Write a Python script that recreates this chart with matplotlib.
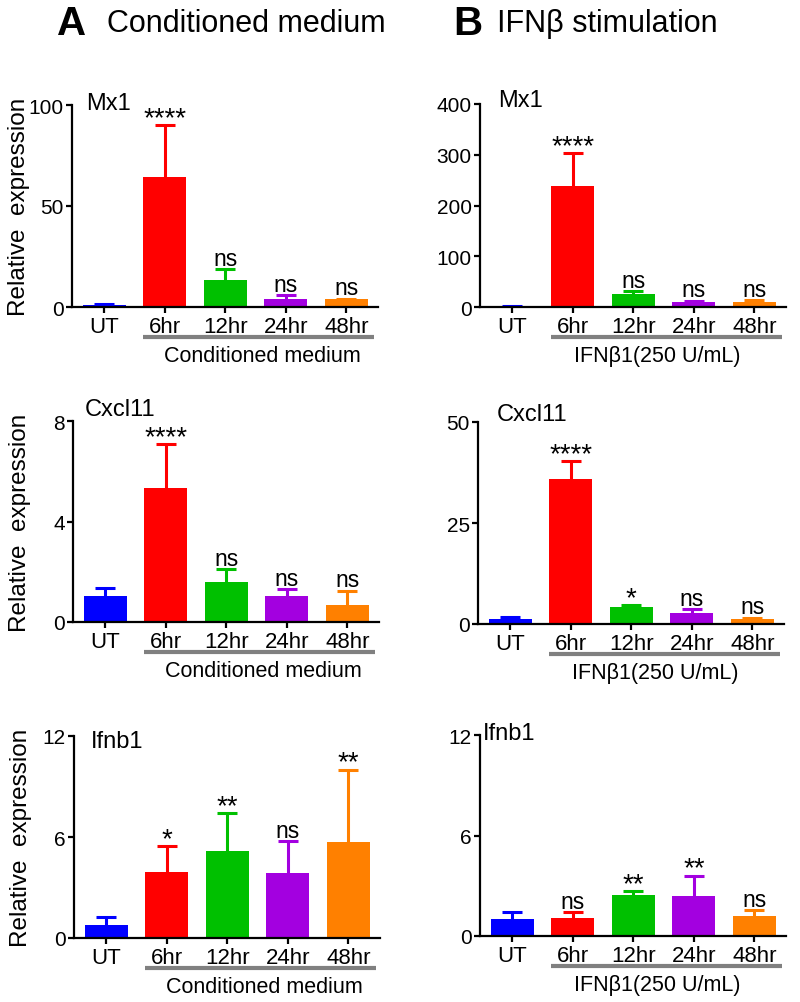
import matplotlib
matplotlib.use("Agg")
import matplotlib.pyplot as plt

plt.rcParams['font.family'] = ['Liberation Sans', 'DejaVu Sans']

categories = ["UT", "6hr", "12hr", "24hr", "48hr"]
bar_colors = ["#0000ff", "#ff0000", "#00c000", "#a300e0", "#ff8000"]

# mean and (upper) error for each gene / treatment
mx1_cm = [1.2, 64.2, 13.2, 3.9, 3.8]
mx1_cm_err = [0.3, 25.8, 5.6, 2.2, 0.4]
mx1_ifn = [2.0, 238, 25.6, 9.0, 10.5]
mx1_ifn_err = [0.5, 65, 6.0, 3.5, 2.5]

cxcl11_cm = [1.03, 5.32, 1.6, 1.03, 0.67]
cxcl11_cm_err = [0.32, 1.75, 0.49, 0.28, 0.58]
cxcl11_ifn = [1.24, 35.9, 4.1, 2.65, 1.24]
cxcl11_ifn_err = [0.56, 4.4, 0.6, 1.05, 0.36]

ifnb1_cm = [0.77, 3.95, 5.16, 3.85, 5.71]
ifnb1_cm_err = [0.5, 1.51, 2.24, 1.92, 4.29]
ifnb1_ifn = [1.01, 1.07, 2.45, 2.41, 1.18]
ifnb1_ifn_err = [0.4, 0.34, 0.25, 1.19, 0.37]

mx1_cm_sig = ["", "****", "ns", "ns", "ns"]
mx1_ifn_sig = ["", "****", "ns", "ns", "ns"]
cxcl11_cm_sig = ["", "****", "ns", "ns", "ns"]
cxcl11_ifn_sig = ["", "****", "*", "ns", "ns"]
ifnb1_cm_sig = ["", "*", "**", "ns", "**"]
ifnb1_ifn_sig = ["", "ns", "**", "**", "ns"]

mx1_cm_ticks = [0, 50, 100]
mx1_ifn_ticks = [0, 100, 200, 300, 400]
cxcl11_cm_ticks = [0, 4, 8]
cxcl11_ifn_ticks = [0, 25, 50]
ifnb1_ticks = [0, 6, 12]

cm_label = "Conditioned medium"
ifn_label = "IFNβ1(250 U/mL)"

W, H = 800, 1003
fig = plt.figure(figsize=(W / 100, H / 100), dpi=100)

# (gene, means, errs, sig, ticks, left px, top px, bottom px, name x, name y, group label, group label x, ylabel?)
panels = [
    ("Mx1", mx1_cm, mx1_cm_err, mx1_cm_sig, mx1_cm_ticks, 72, 106, 308, 0.046, 0.98, cm_label, 2.62, True),
    ("Mx1", mx1_ifn, mx1_ifn_err, mx1_ifn_sig, mx1_ifn_ticks, 480, 105, 308, 0.06, 0.99, ifn_label, 2.4, False),
    ("Cxcl11", cxcl11_cm, cxcl11_cm_err, cxcl11_cm_sig, cxcl11_cm_ticks, 73, 422, 623, 0.04, 1.03, cm_label, 2.62, True),
    ("Cxcl11", cxcl11_ifn, cxcl11_ifn_err, cxcl11_ifn_sig, cxcl11_ifn_ticks, 478, 423, 625, 0.06, 1.01, ifn_label, 2.4, False),
    ("Ifnb1", ifnb1_cm, ifnb1_cm_err, ifnb1_cm_sig, ifnb1_ticks, 74, 737, 939, 0.055, 0.947, cm_label, 2.62, True),
    ("Ifnb1", ifnb1_ifn, ifnb1_ifn_err, ifnb1_ifn_sig, ifnb1_ticks, 480, 736, 937, 0.01, 0.98, ifn_label, 2.4, False),
]

axw = 306
x = list(range(len(categories)))
for gene, vals, errs, sig, ticks, left, top, bottom, nx, ny, glabel, gx, show_ylabel in panels:
    ax = fig.add_axes([left / W, 1 - bottom / H, axw / W, (bottom - top) / H])
    tops = [v + e for v, e in zip(vals, errs)]
    # one-sided error bars (upper only)
    ax.vlines(x, vals, tops, colors=bar_colors, lw=2.2, zorder=1)
    ax.hlines(tops, [i - 0.165 for i in x], [i + 0.165 for i in x],
              colors=bar_colors, lw=2.2, zorder=1)
    ax.bar(x, vals, width=0.71, color=bar_colors, zorder=2, linewidth=0)
    ax.set_xlim(-0.53, 4.52)
    ax.set_ylim(0, ticks[-1])
    ax.set_yticks(ticks)
    ax.set_xticks(x)
    ax.set_xticklabels(categories)
    for s in ["top", "right"]:
        ax.spines[s].set_visible(False)
    for s in ["left", "bottom"]:
        ax.spines[s].set_linewidth(1.6)
    ax.tick_params(axis="y", labelsize=15, width=1.6, length=4, pad=2)
    ax.tick_params(axis="x", labelsize=16, width=1.6, length=4.5, pad=2)

    for i in x:
        if not sig[i]:
            continue
        if sig[i] == "ns":
            ax.annotate(sig[i], (i, tops[i]), xytext=(0, 3),
                        textcoords="offset points", ha="center", va="baseline",
                        fontsize=16.5, clip_on=False)
        else:
            ax.annotate(sig[i], (i, tops[i]), xytext=(0, 0),
                        textcoords="offset points", ha="center", va="baseline",
                        fontsize=20, clip_on=False)

    ax.text(nx, ny, gene, transform=ax.transAxes, fontsize=17, va="baseline", ha="left")

    # grey bracket under the treated groups
    ax.plot([0.645, 4.46], [-0.149, -0.149], color="#808080", lw=3,
            transform=ax.get_xaxis_transform(), clip_on=False, solid_capstyle="butt")
    ax.text(gx, -54 / (bottom - top), glabel, transform=ax.get_xaxis_transform(),
            ha="center", va="baseline", fontsize=15.5)

    if show_ylabel:
        ax.set_ylabel("Relative  expression", fontsize=17.5)
        ax.yaxis.set_label_coords(-0.138, 0.5)

fig.text(57 / W, 1 - 35 / H, "A", fontsize=29, fontweight="bold", va="baseline")
fig.text(107 / W, 1 - 32 / H, "Conditioned medium", fontsize=22, va="baseline")
fig.text(453 / W, 1 - 35 / H, "B", fontsize=29, fontweight="bold", va="baseline")
fig.text(497 / W, 1 - 32 / H, "IFNβ stimulation", fontsize=22, va="baseline")

fig.savefig("out.png", dpi=100)
